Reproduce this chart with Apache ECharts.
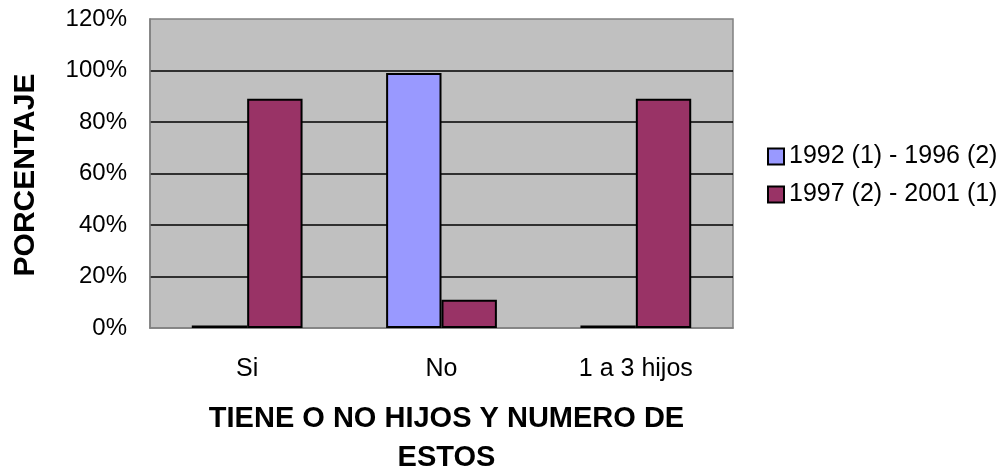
<!DOCTYPE html>
<html>
<head>
<meta charset="utf-8">
<script src="https://cdn.jsdelivr.net/npm/echarts@6/dist/echarts.min.js"></script>
<style>
html,body{margin:0;padding:0;background:#fff;}
#chart{width:1003px;height:472px;}
</style>
</head>
<body>
<div id="chart"></div>
<script>
const categories = ['Si', 'No', '1 a 3 hijos'];
const seriesNames = ['1992 (1) - 1996 (2)', '1997 (2) - 2001 (1)'];
const values1992 = [1, 99, 1];
const values1997 = [89, 11, 89];
const yTicks = [0, 20, 40, 60, 80, 100, 120];

const FONT = "'Liberation Sans', Arial, sans-serif";
const chart = echarts.init(document.getElementById('chart'), null, {renderer: 'canvas'});
chart.setOption({
  animation: false,
  backgroundColor: '#ffffff',
  title: [
    {
      text: 'TIENE O NO HIJOS Y NUMERO DE\nESTOS',
      left: 441.5, top: 394, textAlign: 'center',
      textStyle: {fontFamily: FONT, fontWeight: 'bold', fontSize: 29, color: '#000', lineHeight: 39.5, align: 'center'}
    }
  ],
  graphic: [
    {
      type: 'text',
      x: 26, y: 175, rotation: Math.PI / 2,
      style: {
        text: 'PORCENTAJE', font: 'bold 30px ' + FONT, fill: '#000',
        align: 'center', verticalAlign: 'middle'
      }
    }
  ],
  legend: {
    orient: 'vertical',
    left: 762, top: 139,
    itemWidth: 16, itemHeight: 16, itemGap: 13,
    icon: 'rect',
    textStyle: {fontFamily: FONT, fontSize: 25, color: '#000', padding: [0, 0, 0, 0]},
    data: seriesNames
  },
  grid: {
    left: 150, top: 19, right: 270, bottom: 144,
    show: true, backgroundColor: '#C0C0C0', borderColor: '#808080', borderWidth: 1.5,
    containLabel: false
  },
  xAxis: {
    type: 'category',
    data: categories,
    axisLine: {show: true, lineStyle: {color: '#808080', width: 1.5}},
    axisTick: {show: false},
    axisLabel: {fontFamily: FONT, fontSize: 25, color: '#000', margin: 29}
  },
  yAxis: {
    type: 'value',
    min: yTicks[0], max: yTicks[yTicks.length - 1], interval: 20,
    axisLine: {show: true, lineStyle: {color: '#808080', width: 1.5}},
    axisTick: {show: false},
    axisLabel: {fontFamily: FONT, fontSize: 24, color: '#000', margin: 23, formatter: '{value}%'},
    splitLine: {show: true, showMinLine: false, showMaxLine: false, lineStyle: {color: '#000', width: 1.5}}
  },
  series: [
    {
      name: seriesNames[0], type: 'bar', data: values1992,
      barGap: '0%', barCategoryGap: '43%',
      itemStyle: {color: '#9999FF', borderColor: '#000', borderWidth: 2}
    },
    {
      name: seriesNames[1], type: 'bar', data: values1997,
      barGap: '0%', barCategoryGap: '43%',
      itemStyle: {color: '#993366', borderColor: '#000', borderWidth: 2}
    }
  ]
});
</script>
</body>
</html>
